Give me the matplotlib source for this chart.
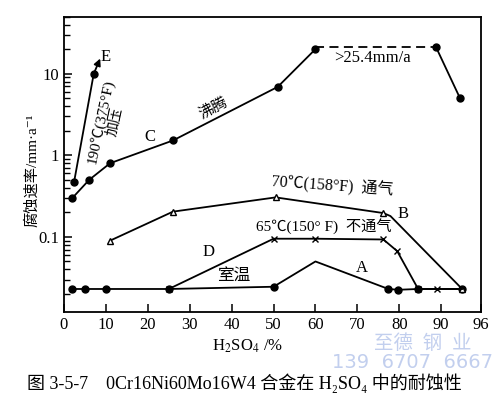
import matplotlib
matplotlib.use("Agg")
import matplotlib.pyplot as plt
from matplotlib.ticker import LogLocator, NullFormatter, FixedLocator

plt.rcParams['font.family'] = ['Liberation Serif', 'Noto Sans CJK SC', 'DejaVu Serif']
plt.rcParams['mathtext.fontset'] = 'stix'

# curve A - room temperature
a_x = [2, 5, 10, 25, 50, 60, 77.4, 79.8, 84.5, 95]
a_y = [0.023, 0.023, 0.023, 0.023, 0.0245, 0.05, 0.023, 0.0225, 0.023, 0.023]
a_mark = [0, 1, 2, 3, 4, 6, 7, 8, 9]

# curve B - 70C aerated
b_x = [11, 26, 50.5, 76.2, 77.9, 95]
b_y = [0.09, 0.204, 0.305, 0.196, 0.18, 0.023]
b_mark = [0, 1, 2, 3, 5]

# curve C - boiling
c_x = [2, 6, 11, 26, 51, 60]
c_y = [0.3, 0.5, 0.8, 1.52, 6.9, 20]
c_dash_x = [60, 88.8]
c_dash_y = [21, 21]
c_end_x = [88.8, 94.5]
c_end_y = [21, 5]

# curve D - 65C not aerated
d_x = [25, 50, 60, 76.2, 79.5, 84.5, 89, 95]
d_y = [0.023, 0.095, 0.095, 0.093, 0.067, 0.023, 0.023, 0.023]
d_mark = [0, 1, 2, 3, 4, 5, 6]

# curve E - 190C pressurised
e_x = [2.4, 7.1]
e_y = [0.47, 10]
e_tip = (8.9, 16.5)

x_ticks = [0, 10, 20, 30, 40, 50, 60, 70, 80, 90, 99.5]
x_labels = ['0', '10', '20', '30', '40', '50', '60', '70', '80', '90', '96']

fig = plt.figure(figsize=(5, 3.97), dpi=100)
ax = fig.add_axes([0.128, 0.214, 0.834, 0.744])

lw = 1.3
ax.plot(a_x, a_y, color='black', lw=lw, marker='o', ms=5, markevery=a_mark)
ax.plot(b_x, b_y, color='black', lw=lw, marker='^', ms=5, mfc='white', markevery=b_mark)
ax.plot(c_x, c_y, color='black', lw=lw, marker='o', ms=5)
ax.plot(c_dash_x, c_dash_y, color='black', lw=lw, ls=(0, (5, 3)))
ax.plot(c_end_x, c_end_y, color='black', lw=lw, marker='o', ms=5)
ax.plot(d_x, d_y, color='black', lw=lw, marker='x', ms=5, mew=1.0, markevery=d_mark)
ax.plot(e_x, e_y, color='black', lw=lw, marker='o', ms=5)
ax.annotate('', xy=e_tip, xytext=(e_x[-1], e_y[-1]),
            arrowprops=dict(arrowstyle='-|>', color='black', lw=lw, mutation_scale=10))

ax.set_yscale('log')
ax.set_xlim(0, 99.5)
ax.set_ylim(0.012, 50)
ax.yaxis.set_major_locator(FixedLocator([0.1, 1, 10]))
ax.set_yticklabels(['0.1', '1', '10'])
ax.yaxis.set_minor_locator(LogLocator(base=10, subs=range(2, 10)))
ax.yaxis.set_minor_formatter(NullFormatter())
ax.set_xticks(x_ticks)
ax.set_xticklabels(x_labels)
ax.tick_params(axis='both', which='major', direction='in', length=6, width=1.1,
               labelsize=12, top=False, right=False)
ax.tick_params(axis='y', which='minor', direction='in', length=4, width=1.0, right=False)
for s in ax.spines.values():
    s.set_linewidth(1.3)

# curve labels
ax.text(10, 16, 'E', fontsize=12, ha='center', va='center')
ax.text(8.7, 2.6, '190℃(375°F)', fontsize=11, rotation=78, ha='center', va='center')
ax.text(12.0, 2.6, '加压', fontsize=10.5, rotation=78, ha='center', va='center')
ax.text(20.5, 1.66, 'C', fontsize=12, ha='center', va='center')
ax.text(35.6, 3.8, '沸腾', fontsize=11, rotation=28, ha='center', va='center')
ax.text(73.5, 15.5, '>25.4mm/a', fontsize=12, ha='center', va='center')
ax.text(64, 0.42, '70℃(158°F)  通气', fontsize=11.5, rotation=-4, ha='center', va='center')
ax.text(81, 0.19, 'B', fontsize=12, ha='center', va='center')
ax.text(62, 0.136, '65℃(150° F)  不通气', fontsize=11, ha='center', va='center')
ax.text(34.5, 0.066, 'D', fontsize=12, ha='center', va='center')
ax.text(40.5, 0.033, '室温', fontsize=12, ha='center', va='center')
ax.text(71, 0.042, 'A', fontsize=12, ha='center', va='center')

fig.text(0.064, 0.572, '腐蚀速率/mm·a⁻¹', fontsize=11, rotation=90, ha='center', va='center')
fig.text(0.496, 0.128, r'H$_2$SO$_4$ /%', fontsize=12, ha='center', va='center')
fig.text(0.488, 0.035, '图 3-5-7    0Cr16Ni60Mo16W4 合金在 H₂SO₄ 中的耐蚀性',
         fontsize=13, ha='center', va='center')

# watermark
fig.text(0.845, 0.135, '至德  钢  业', fontsize=14, color='#c2cfee', ha='center', va='center')
fig.text(0.826, 0.088, '139  6707  6667', fontsize=14, color='#c2cfee', ha='center',
         va='center', family='DejaVu Sans')

fig.savefig('out.png', dpi=100)
